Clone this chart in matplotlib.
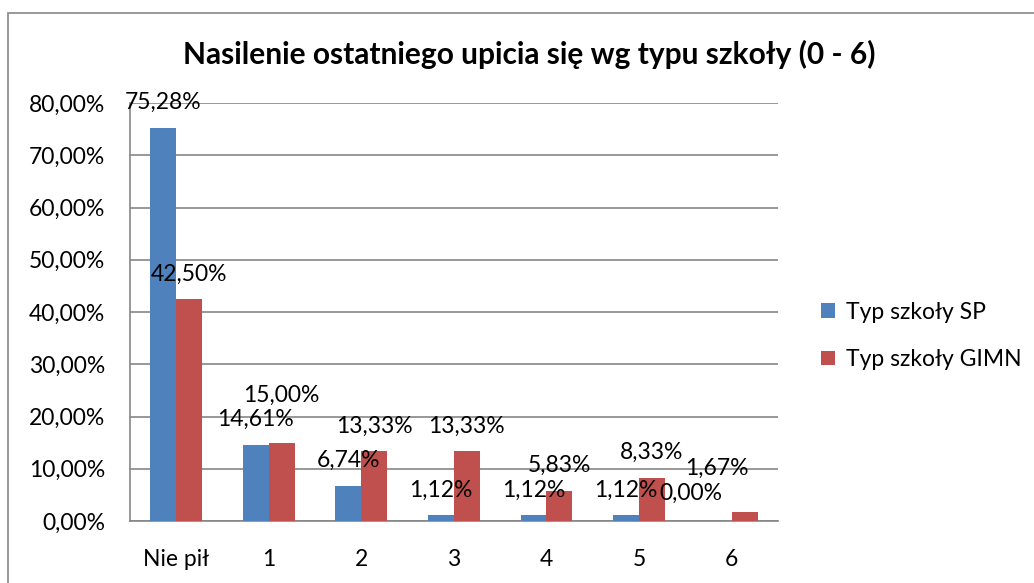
import matplotlib.pyplot as plt
import numpy as np
from matplotlib.patches import Rectangle
from matplotlib.ticker import FuncFormatter

plt.rcParams['font.family'] = ['Lato', 'DejaVu Sans']

categories = ['Nie pił', '1', '2', '3', '4', '5', '6']
sp_values = [75.28, 14.61, 6.74, 1.12, 1.12, 1.12, 0.00]
gimn_values = [42.50, 15.00, 13.33, 13.33, 5.83, 8.33, 1.67]
series_names = ['Typ szkoły SP', 'Typ szkoły GIMN']

blue = '#4F81BD'
red = '#C0504D'
grid_col = '#868686'

fig = plt.figure(figsize=(10.34, 5.83), dpi=100)
ax = fig.add_axes([0.1257, 0.1063, 0.6266, 0.717])

x = np.arange(len(categories))
bar_width = 0.28
bars_sp = ax.bar(x - bar_width / 2, np.array(sp_values) / 100, bar_width,
                 color=blue, label=series_names[0], zorder=3)
bars_gimn = ax.bar(x + bar_width / 2, np.array(gimn_values) / 100, bar_width,
                   color=red, label=series_names[1], zorder=3)

ax.set_xlim(-0.5, len(categories) - 0.5)
ax.set_ylim(0, 0.8)
ax.set_yticks(np.arange(0, 0.81, 0.1))
ax.yaxis.set_major_formatter(FuncFormatter(lambda v, p: f'{v * 100:.2f}%'.replace('.', ',')))
ax.set_xticks(x)
ax.set_xticklabels(categories)
ax.tick_params(axis='both', length=0, labelsize=16.5)
ax.tick_params(axis='x', pad=20)
ax.tick_params(axis='y', pad=18)
ax.grid(axis='y', color=grid_col, linewidth=1.2, zorder=0)
for side in ['top', 'right']:
    ax.spines[side].set_visible(False)
for side in ['left', 'bottom']:
    ax.spines[side].set_color(grid_col)
    ax.spines[side].set_linewidth(1.2)

# label shifts in points (dx, dy) for the ones Excel moved around
shifts = {(0, 6): (-20, 2), (1, 6): (-20, 14), (1, 1): (0, 16)}


def autolabel(bars, values, s):
    for i, (bar, v) in enumerate(zip(bars, values)):
        dx, dy = shifts.get((s, i), (0, 0))
        ax.annotate(f'{v:.2f}%'.replace('.', ','),
                    xy=(bar.get_x() + bar.get_width() / 2, bar.get_height()),
                    xytext=(dx, 18 + dy), textcoords='offset points',
                    ha='center', va='center', fontsize=16.5, zorder=4)


autolabel(bars_sp, sp_values, 0)
autolabel(bars_gimn, gimn_values, 1)

fig.text(0.512, 0.906, 'Nasilenie ostatniego upicia się wg typu szkoły (0 - 6)',
         ha='center', va='center', fontsize=21.5, fontweight='bold')

ax.legend(loc='center left', bbox_to_anchor=(1.035, 0.443), frameon=False,
          fontsize=16.5, handlelength=0.6, handleheight=0.6, labelspacing=1.15,
          handletextpad=0.5)

fig.patches.append(Rectangle((8 / 1034, -0.1), 1.2, 1 - 13 / 583 + 0.1,
                             transform=fig.transFigure, fill=False,
                             edgecolor='#888888', linewidth=1.2))

plt.savefig('out.png', dpi=100)
